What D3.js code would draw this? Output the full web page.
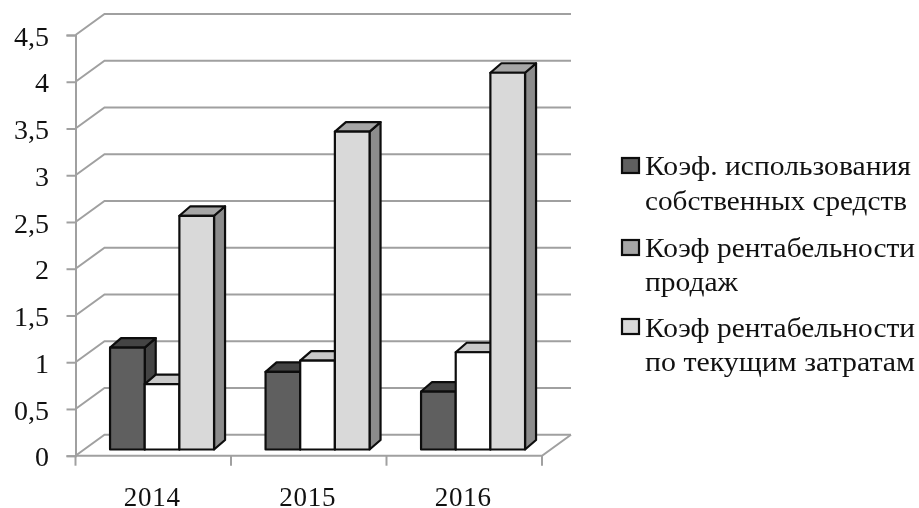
<!DOCTYPE html>
<html>
<head>
<meta charset="utf-8">
<script src="https://cdn.jsdelivr.net/npm/d3@7"></script>
<style>
    html, body { margin: 0; padding: 0; background: #fff; }
    svg { filter: blur(0.35px); }
    text { font-family: "Liberation Serif", serif; fill: #111; }
    .grid { fill: none; stroke: #a0a0a0; stroke-width: 2; }
    .axis path, .axis line { stroke: #a0a0a0; stroke-width: 2; }
    .bar { stroke: #0d0d0d; stroke-width: 2.2; stroke-linejoin: round; }
    .swatch { stroke: #0d0d0d; stroke-width: 2.2; }
</style>
</head>
<body>
<div id="chart"></div>
<script>
(function() {
    var categories = ["2014", "2015", "2016"];
    var seriesNames = ["s1", "s2", "s3"];
    var series1 = [1.09, 0.83, 0.62];
    var series2 = [0.7, 0.95, 1.04];
    var series3 = [2.5, 3.4, 4.03];
    var yTicks = [0, 0.5, 1, 1.5, 2, 2.5, 3, 3.5, 4, 4.5];
    var yLabels = ["0", "0,5", "1", "1,5", "2", "2,5", "3", "3,5", "4", "4,5"];
    var legendLines = [
        ["Коэф. использования", "собственных средств"],
        ["Коэф рентабельности", "продаж"],
        ["Коэф рентабельности", "по текущим затратам"]
    ];
    var legendWidths = [[266, 262], [270, 93], [270, 270]];
    var legendColors = ["#5f5f5f", "#a6a6a6", "#d9d9d9"];
    var frontColors = ["#5f5f5f", "#ffffff", "#d9d9d9"];
    var topColors = ["#444444", "#c9c9c9", "#a6a6a6"];
    var sideColors = ["#444444", "#c9c9c9", "#8c8c8c"];

    var width = 919;
    var height = 508;
    var left = 75.5;
    var right = 542;
    var bottom = 455.7;
    var top = 35;
    var wallDx = 29;
    var wallDy = -21;
    var barDx = 11;
    var barDy = -9.5;
    var barShiftX = 8.8;
    var barShiftY = -6.2;

    var x = d3.scaleBand()
        .domain(categories)
        .range([left, right]);

    var inner = d3.scaleBand()
        .domain(seriesNames)
        .range([0, 104])
        .paddingInner(0);

    var y = d3.scaleLinear()
        .domain([0, 4.5])
        .range([bottom, top]);

    var svg = d3.select("#chart").append("svg")
        .attr("width", width)
        .attr("height", height)
        .style("display", "block");

    // walls: each gridline runs along the left side, then the back
    svg.selectAll(".grid")
        .data(yTicks)
        .enter()
        .append("polyline")
        .attr("class", "grid")
        .attr("points", function(d) {
            return [
                [left, y(d)],
                [left + wallDx, y(d) + wallDy],
                [right + wallDx, y(d) + wallDy]
            ].join(" ");
        });

    svg.append("polyline")
        .attr("class", "grid")
        .attr("points", [
            [left, bottom],
            [right, bottom],
            [right + wallDx, bottom + wallDy]
        ].join(" "));

    var yAxis = svg.append("g")
        .attr("class", "axis")
        .attr("transform", "translate(" + left + ",0)")
        .call(d3.axisLeft(y)
            .tickValues(yTicks)
            .tickSizeOuter(0)
            .tickSize(9)
            .tickPadding(17.5)
            .tickFormat(function(d, i) { return yLabels[i]; }));

    yAxis.selectAll("text")
        .attr("font-size", 28)
        .style("font-family", "Liberation Serif")
        .attr("dy", "0.36em");

    var xTicks = svg.append("g")
        .attr("class", "axis");

    xTicks.append("path")
        .attr("d", "M" + left + "," + bottom + "V" + (bottom + 10));

    xTicks.selectAll(".x-tick")
        .data(categories)
        .enter()
        .append("line")
        .attr("class", "x-tick")
        .attr("x1", function(d) { return x(d) + x.bandwidth(); })
        .attr("x2", function(d) { return x(d) + x.bandwidth(); })
        .attr("y1", bottom)
        .attr("y2", bottom + 10);

    svg.selectAll(".x-label")
        .data(categories)
        .enter()
        .append("text")
        .attr("class", "x-label")
        .attr("text-anchor", "middle")
        .attr("font-size", 27)
        .style("letter-spacing", "0.8px")
        .attr("x", function(d) { return x(d) + x.bandwidth() / 2 - 1; })
        .attr("y", 506)
        .text(function(d) { return d; });

    var allSeries = [series1, series2, series3];

    categories.forEach(function(cat, c) {
        allSeries.forEach(function(values, s) {
            var x0 = x(cat) + barShiftX + (x.bandwidth() - 104) / 2 + inner(seriesNames[s]);
            var x1 = x0 + inner.bandwidth();
            var base = bottom + barShiftY;
            var head = y(values[c]) + barShiftY;
            var g = svg.append("g").attr("class", "bar");

            g.append("polygon")
                .attr("fill", sideColors[s])
                .attr("points", [
                    [x1, base],
                    [x1 + barDx, base + barDy],
                    [x1 + barDx, head + barDy],
                    [x1, head]
                ].join(" "));

            g.append("polygon")
                .attr("fill", topColors[s])
                .attr("points", [
                    [x0, head],
                    [x0 + barDx, head + barDy],
                    [x1 + barDx, head + barDy],
                    [x1, head]
                ].join(" "));

            g.append("rect")
                .attr("fill", frontColors[s])
                .attr("x", x0)
                .attr("y", head)
                .attr("width", x1 - x0)
                .attr("height", base - head);
        });
    });

    var legendSwatchY = [158, 240, 319];
    var legendBaselines = [[175, 210], [256.7, 290.7], [336.7, 371]];

    var legend = svg.selectAll(".legend")
        .data(legendLines)
        .enter()
        .append("g")
        .attr("class", "legend");

    legend.append("rect")
        .attr("class", "swatch")
        .attr("x", 622)
        .attr("y", function(d, i) { return legendSwatchY[i]; })
        .attr("width", 17)
        .attr("height", 15)
        .attr("fill", function(d, i) { return legendColors[i]; });

    legend.each(function(lines, i) {
        d3.select(this).selectAll("text")
            .data(lines)
            .enter()
            .append("text")
            .attr("x", 645)
            .attr("y", function(d, j) { return legendBaselines[i][j]; })
            .attr("font-size", 28)
            .attr("textLength", function(d, j) { return legendWidths[i][j]; })
            .attr("lengthAdjust", "spacingAndGlyphs")
            .text(function(d) { return d; });
    });
})();
</script>
</body>
</html>
